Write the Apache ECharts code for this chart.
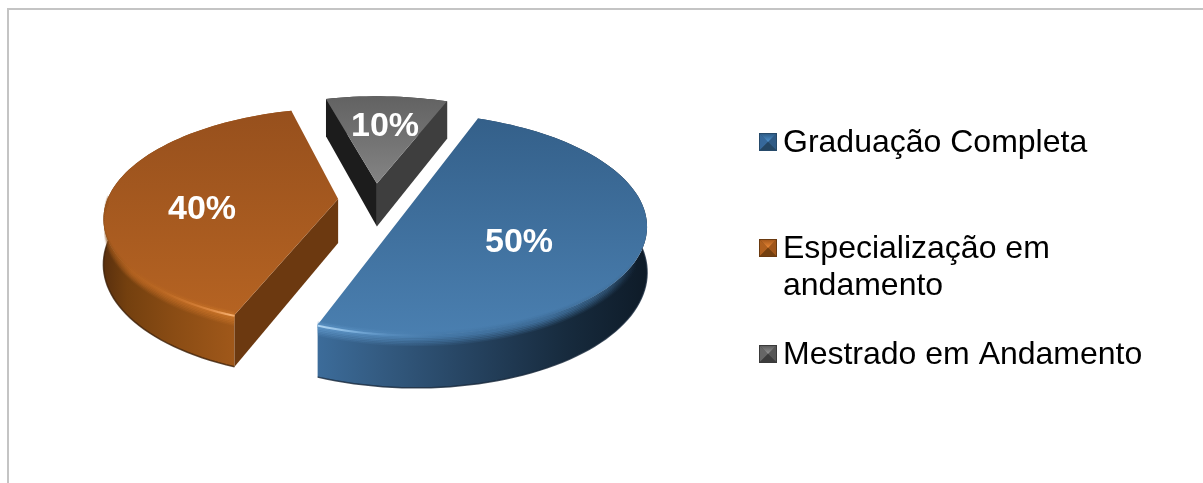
<!DOCTYPE html>
<html>
<head>
<meta charset="utf-8">
<style>html,body{margin:0;padding:0;background:#fff}#chart{width:1203px;height:483px}</style>
<script src="https://cdn.jsdelivr.net/npm/echarts@6/dist/echarts.min.js"></script>
</head>
<body>
<div id="chart"></div>
<script>
const categories = ['Graduação Completa', 'Especialização em\nandamento', 'Mestrado em Andamento'];
const values = [50, 40, 10];

// Projection of the tilted pie disc: unit radius, Y grows towards the viewer.
const VIEW = { cx: 375, cy: 200, a: 231, b: 106, k: 0.16, h: 44, explode: 0.16, firstAngle: 21 };
const FONT = '"Liberation Sans", Arial, sans-serif';
const labelAt = [[519, 242.5], [202, 209.5], [385, 126.5]];
const legendRow = [142, 248, 354];

// Surface shades per slice.
const SHADES = [
  { top: ['#34608a', '#4a7fb0'],
    rim: [[0, '#3c6c9a'], [0.2, '#335a80'], [0.5, '#24405c'], [0.75, '#172b3e'], [1, '#0e1b28']],
    bevel: [[0, '#5d94c6'], [0.35, '#477bab'], [0.7, '#3f6f9c'], [0.88, 'rgba(62,108,150,0.45)'], [0.97, 'rgba(50,90,130,0)'], [1, 'rgba(50,90,130,0)']],
    glint: [[0, '#b4d8f4'], [0.1, '#7fb2de'], [0.22, 'rgba(100,155,205,0.3)'], [0.4, 'rgba(90,140,190,0)'], [1, 'rgba(90,140,190,0)']],
    edge: '#16273a', faces: ['#2a4a68', '#2a4a68'],
    key: ['#4f93cf', '#36689a', '#244663', '#2f5a84'], keyTop: '#2f5d88', keyEdge: '#264a6a' },
  { top: ['#97501d', '#b56322'],
    rim: [[0, '#5a300e'], [0.1, '#74400f'], [0.3, '#8a4c14'], [0.56, '#a0581a'], [1, '#a0581a']],
    bevel: [[0, 'rgba(138,76,20,0)'], [0.03, 'rgba(150,82,24,0.5)'], [0.12, '#b0601f'], [0.4, '#c06c24'], [0.56, '#c87428'], [1, '#c87428']],
    glint: [[0, 'rgba(190,100,30,0)'], [0.25, 'rgba(215,125,50,0.1)'], [0.45, 'rgba(235,150,80,0.6)'], [0.54, '#f6b070'], [0.6, '#f0a060'], [1, '#f0a060']],
    edge: '#3c1f08', faces: ['#6c3910', '#6c3910'],
    key: ['#ec8a38', '#b0601e', '#74400f', '#a0561a'], keyTop: '#a85a1c', keyEdge: '#6a3a10' },
  { top: ['#626262', '#848484'],
    rim: [[0, '#333333'], [1, '#333333']],
    bevel: [[0, 'rgba(0,0,0,0)'], [1, 'rgba(0,0,0,0)']],
    glint: [[0, 'rgba(0,0,0,0)'], [1, 'rgba(0,0,0,0)']],
    edge: '#222222', faces: ['#1c1c1c', '#3e3e3e'],
    key: ['#969696', '#666666', '#3c3c3c', '#565656'], keyTop: '#5c5c5c', keyEdge: '#3a3a3a' }
];

function project(x, y, z) {
  const s = 1 / (1 - VIEW.k * y);
  return [VIEW.cx + VIEW.a * x * s, VIEW.cy + (VIEW.b * y + VIEW.h * z) * s];
}
const rad = d => d * Math.PI / 180;
const unit = deg => [Math.sin(rad(deg)), -Math.cos(rad(deg))];
const total = values.reduce((p, c) => p + c, 0);

function hGradient(x0, x1, stops) {
  return { type: 'linear', x: x0, y: 0, x2: x1, y2: 0, global: true,
    colorStops: stops.map(s => ({ offset: s[0], color: s[1] })) };
}
function vGradient(y0, y1, c0, c1) {
  return { type: 'linear', x: 0, y: y0, x2: 0, y2: y1, global: true,
    colorStops: [{ offset: 0, color: c0 }, { offset: 1, color: c1 }] };
}

// Bevelled square key: a thin frame around four facets meeting at the centre,
// the upper facet brightening towards the peak.
function legendKey(cx, cy, sh) {
  const r = 9, i = 8;
  const n = [[cx - i, cy - i], [cx + i, cy - i], [cx + i, cy + i], [cx - i, cy + i]];
  const c = [cx, cy];
  return [
    { type: 'rect', shape: { x: cx - r, y: cy - r, width: 2 * r, height: 2 * r }, style: { fill: sh.keyEdge } },
    { type: 'polygon', shape: { points: [n[0], n[3], c] }, style: { fill: sh.key[1] } },
    { type: 'polygon', shape: { points: [n[1], n[2], c] }, style: { fill: sh.key[3] } },
    { type: 'polygon', shape: { points: [n[3], n[2], c] }, style: { fill: sh.key[2] } },
    { type: 'polygon', shape: { points: [n[0], n[1], c] }, style: { fill: vGradient(cy - i, cy, sh.keyTop, sh.key[0]) } }
  ];
}

function renderSlice(params, api) {
  const i = params.dataIndex;
  const share = api.value(0) / total;
  const before = values.slice(0, i).reduce((p, c) => p + c, 0) / total;
  const from = VIEW.firstAngle + before * 360;
  const to = from + share * 360;
  const mid = unit((from + to) / 2);
  const ox = mid[0] * VIEW.explode, oy = mid[1] * VIEW.explode;
  const sh = SHADES[i];

  const arc = [];
  const steps = Math.ceil((to - from) / 2);
  for (let j = 0; j <= steps; j++) {
    const u = unit(from + (to - from) * j / steps);
    arc.push({ x: ox + u[0], y: oy + u[1], facing: u[1] > -0.02 });
  }
  const topArc = arc.map(p => project(p.x, p.y, 0));
  const lowArc = arc.map(p => project(p.x, p.y, 1));
  const apexTop = project(ox, oy, 0), apexLow = project(ox, oy, 1);
  const inner = project(ox + mid[0] * 0.5, oy + mid[1] * 0.5, 0);

  const xs = topArc.map(p => p[0]), ys = topArc.map(p => p[1]).concat(apexTop[1]);
  const x0 = Math.min(...xs, apexTop[0]), x1 = Math.max(...xs, apexTop[0]);
  const y0 = Math.min(...ys), y1 = Math.max(...ys);

  const children = [];
  children.push({ type: 'polygon', shape: { points: topArc.concat(lowArc.slice().reverse()) },
    style: { fill: hGradient(x0, x1, sh.rim) } });

  // Cut walls are drawn only when they turn towards the viewer.
  [[0, topArc[0], lowArc[0]], [1, topArc[steps], lowArc[steps]]].forEach(([which, ct, cl]) => {
    const ex = ct[0] - apexTop[0], ey = ct[1] - apexTop[1];
    const side = ex * (inner[1] - apexTop[1]) - ey * (inner[0] - apexTop[0]);
    if (ex * side < 0) {
      children.push({ type: 'polygon', shape: { points: [apexTop, ct, cl, apexLow] },
        style: { fill: sh.faces[which] } });
    }
  });

  children.push({ type: 'polygon', shape: { points: [apexTop].concat(topArc) },
    style: { fill: vGradient(y0, y1, sh.top[0], sh.top[1]) } });

  // Rounded lip along the front of the rim, built from fading strokes.
  const front = arc.filter(p => p.facing);
  if (front.length > 1) {
    children.push({ type: 'polyline', shape: { points: front.map(p => project(p.x, p.y, 1)) },
      style: { fill: null, stroke: sh.edge, lineWidth: 1.5, opacity: 0.8 } });
    const layers = [[-0.05, 0.25], [-0.02, 0.6], [0.01, 0.95], [0.04, 0.9], [0.07, 0.75], [0.10, 0.58], [0.13, 0.42], [0.16, 0.28], [0.19, 0.15]];
    layers.forEach(([z, alpha]) => {
      children.push({ type: 'polyline', shape: { points: front.map(p => project(p.x, p.y, z)) },
        style: { fill: null, stroke: hGradient(x0, x1, sh.bevel), lineWidth: 2.2, opacity: alpha } });
    });
    children.push({ type: 'polyline', shape: { points: front.map(p => project(p.x, p.y, 0.015)) },
      style: { fill: null, stroke: hGradient(x0, x1, sh.glint), lineWidth: 2 } });
  }

  children.push({ type: 'text', z2: 20, x: labelAt[i][0], y: labelAt[i][1],
    style: { text: Math.round(share * 100) + '%', font: 'bold 34px ' + FONT, fill: '#fff',
      align: 'center', verticalAlign: 'middle' } });

  legendKey(768, legendRow[i], sh).forEach(k => children.push(k));
  children.push({ type: 'text', x: 783, y: legendRow[i] - 17.5,
    style: { text: api.value(1), font: '32px ' + FONT, fill: '#000', lineHeight: 37,
      align: 'left', verticalAlign: 'top' } });

  return { type: 'group', children };
}

const chart = echarts.init(document.getElementById('chart'), null, { renderer: 'canvas' });
chart.setOption({
  animation: false,
  backgroundColor: '#fff',
  graphic: [
    { type: 'rect', shape: { x: 7, y: 8, width: 1196, height: 2 }, style: { fill: '#c4c4c4' } },
    { type: 'rect', shape: { x: 7, y: 8, width: 2, height: 475 }, style: { fill: '#c4c4c4' } }
  ],
  series: [{
    type: 'custom',
    coordinateSystem: 'none',
    silent: true,
    renderItem: renderSlice,
    data: values.map((v, i) => [v, categories[i]]),
    dimensions: [{ name: 'value', type: 'number' }, { name: 'name', type: 'ordinal' }]
  }]
});
</script>
</body>
</html>
